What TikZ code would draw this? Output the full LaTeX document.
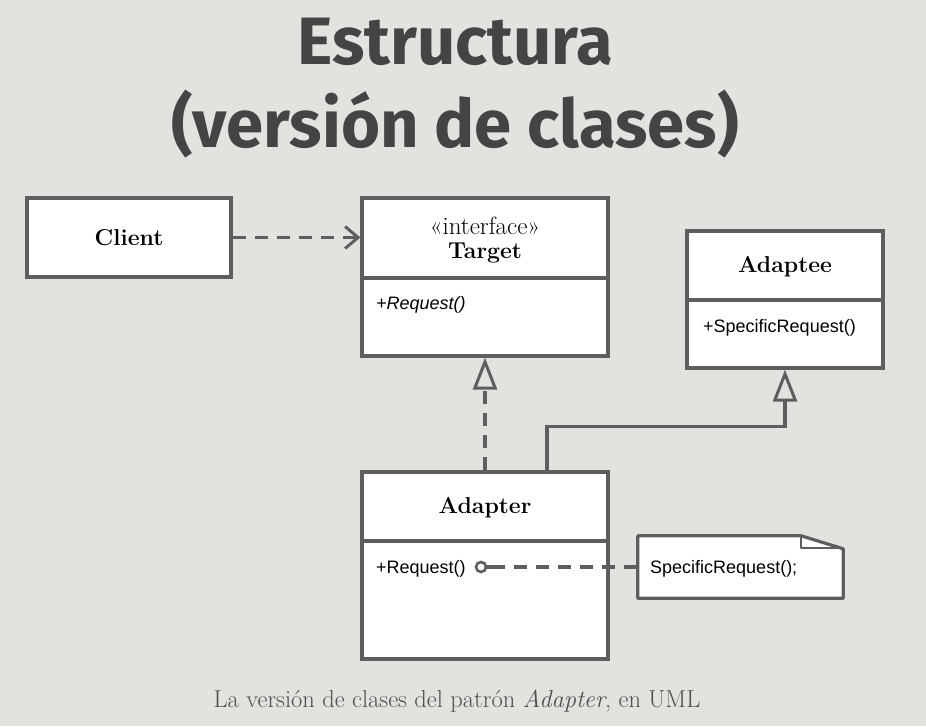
\documentclass[tikz,border=0pt]{standalone}
\usepackage{fontspec}
\usetikzlibrary{arrows.meta}
\newfontfamily\titlefont{Fira Sans}
\newfontfamily\umlsans{Liberation Sans}
\definecolor{bgc}{HTML}{E3E2DF}
\definecolor{linec}{HTML}{5E5E5E}
\definecolor{titlec}{HTML}{444444}
\definecolor{capc}{HTML}{4F4F4F}
\tikzset{
  umlbox/.style={draw=linec, line width=3.2pt, fill=white, inner sep=0pt},
  divline/.style={draw=linec, line width=3.2pt},
  conn/.style={draw=linec, line width=3.2pt},
  dashconn/.style={conn, dash pattern=on 13pt off 9pt},
  clsname/.style={font=\fontsize{23}{26}\selectfont\bfseries, text=black},
  stereo/.style={font=\fontsize{25}{28}\selectfont, text=black},
  method/.style={font=\umlsans\fontsize{18}{21}\selectfont, text=black, anchor=base west, inner sep=0pt},
  titletext/.style={font=\titlefont\bfseries\fontsize{67}{80}\selectfont, text=titlec, anchor=base},
  captext/.style={font=\fontsize{24.5}{28}\selectfont, text=capc, anchor=base}
}
\begin{document}
\begin{tikzpicture}[x=1pt,y=-1pt]
\fill[bgc] (0,0) rectangle (926,726);
\useasboundingbox (0,0) rectangle (926,726);

% title
\node[titletext] (t1) at (455,64) {Estructura};
\node[titletext] (t2) at (455,147) {(versión de clases)};

% Client
\node[umlbox, minimum width=204pt, minimum height=79pt] (client) at (129,237.5) {};
\node[clsname] (clientname) at (client.center) {Client};

% Target
\node[umlbox, minimum width=246pt, minimum height=158pt] (target) at (485,277) {};
\draw[divline] (362,278) -- (608,278);
\node[stereo] (tstereo) at (485,226) {«interface»};
\node[clsname] (tname) at (485,253) {Target};
\node[method] (treq) at (376,309) {\itshape +Request()};

% Adaptee
\node[umlbox, minimum width=196pt, minimum height=137pt] (adaptee) at (785,299.5) {};
\draw[divline] (687,300) -- (883,300);
\node[clsname] (aename) at (785,267) {Adaptee};
\node[method] (aereq) at (703,332) {+SpecificRequest()};

% Adapter
\node[umlbox, minimum width=246pt, minimum height=187pt] (adapter) at (485,565.5) {};
\draw[divline] (362,541) -- (608,541);
\node[clsname] (adname) at (485,508) {Adapter};
\node[method] (adreq) at (376,573) {+Request()};

% Note
\node[minimum width=205pt, minimum height=62pt, inner sep=0pt] (note) at (740.5,567) {};
\draw[conn, fill=white, line join=round]
  (note.south west) -- (note.north west) -- ([xshift=-42pt]note.north east)
  -- ([yshift=-13pt]note.north east) -- (note.south east) -- cycle;
\draw[conn, line width=2.2pt, line join=round]
  ([xshift=-42pt]note.north east) -- ([xshift=-42pt,yshift=-12pt]note.north east)
  -- ([xshift=-4pt,yshift=-12pt]note.north east);
\node[method] (notetext) at (650,573) {SpecificRequest();};

% connectors
\draw[dashconn, -{Straight Barb[length=13pt,width=22pt,line width=3pt]}]
  (client.east) -- (target.west |- client.east);
\draw[dashconn, -{Triangle[open,length=32pt,width=24pt,line width=3pt]}]
  (adapter.north) -- (target.south);
\draw[conn, -{Triangle[open,length=32pt,width=24pt,line width=3pt]}]
  ([xshift=62pt]adapter.north) -- ++(0,-44) -| (adaptee.south);
\node[circle, draw=linec, line width=2.6pt, fill=white, minimum size=10pt, inner sep=0pt] (dot) at (481,567) {};
\draw[conn] (dot.east) -- ++(5,0) coordinate (dotend);
\draw[dashconn] (dotend) -- (note.west);

% caption
\node[captext] (cap) at (457,707) {La versión de clases del patrón \textit{Adapter}, en UML};
\end{tikzpicture}
\end{document}
